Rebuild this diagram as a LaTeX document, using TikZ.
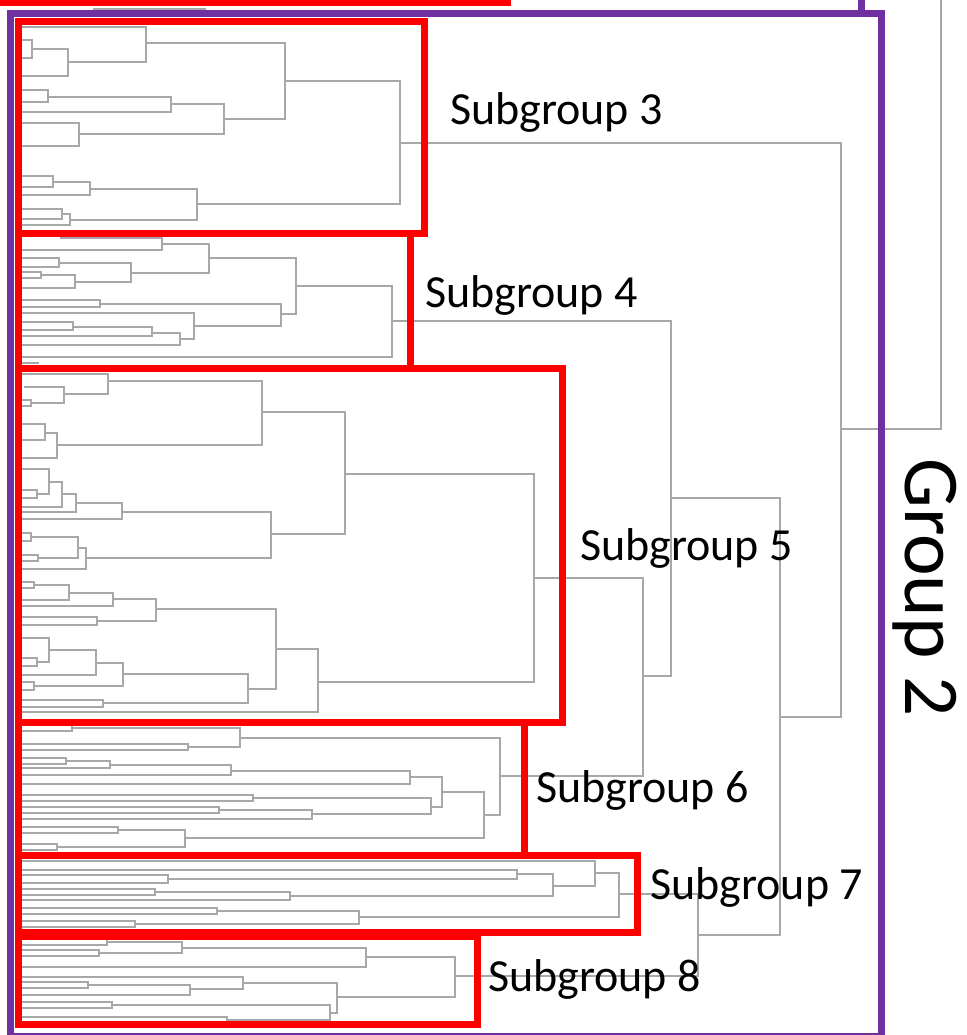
\documentclass[tikz,border=0pt]{standalone}
\usepackage{fontspec}
\setmainfont{Carlito}
\definecolor{dgray}{RGB}{168,168,168}
\definecolor{gpurple}{RGB}{112,48,160}
\definecolor{sred}{RGB}{255,0,0}
\newcommand{\br}[5]{\draw[dlink] (#4,#2) -- (#1,#2) -- (#1,#3) -- (#5,#3);}
\begin{document}
\begin{tikzpicture}[x=1pt,y=-1pt,
  dlink/.style={draw=dgray,line width=1.2pt},
  redbox/.style={draw=sred,line width=7pt},
  purplebox/.style={draw=gpurple,line width=7pt},
  sublabel/.style={font=\fontsize{46}{50}\selectfont,anchor=base west,inner sep=0pt},
  grouplabel/.style={font=\fontsize{79}{88}\selectfont,anchor=base west,inner sep=0pt,rotate=-90}]
\useasboundingbox (0,0) rectangle (966,1035);
\fill[white] (0,0) rectangle (966,1035);
% ---- top-level links ----
\draw[dlink] (841,429) -- (941,429) -- (941,0);
\draw[dlink] (93,9) -- (206,9);
\br{841}{143}{717}{400}{780}
\br{780}{498}{935}{671}{698}
\br{671}{321}{676}{392}{643}
\br{643}{578}{776}{534}{500}
\br{698}{894}{976}{619}{455}
% ---- subgroup 3 ----
\br{400}{81}{204}{285}{197}
\br{285}{43}{119}{146}{224}
\br{146}{27}{62}{20}{68}
\br{68}{49}{76}{32}{20}
\br{32}{40}{58}{20}{20}
\br{224}{104}{134}{171}{79}
\br{171}{97}{112}{48}{20}
\br{48}{90}{102}{20}{20}
\br{79}{123}{146}{20}{20}
\br{197}{189}{220}{90}{70}
\br{90}{182}{195}{53}{20}
\br{53}{176}{187}{20}{20}
\br{70}{214}{225}{62}{20}
\br{62}{209}{219}{20}{20}
% ---- subgroup 4 ----
\br{392}{286}{357}{296}{20}
\br{296}{258}{314}{209}{281}
\br{209}{244}{273}{162}{131}
\br{162}{238}{250}{60}{20}
\br{131}{263}{282}{59}{75}
\br{59}{258}{267}{20}{20}
\br{75}{275}{288}{41}{20}
\br{41}{272}{278}{20}{20}
\br{281}{304}{326}{100}{194}
\br{100}{300}{307}{20}{20}
\br{194}{313}{339}{20}{180}
\br{180}{333}{345}{152}{20}
\br{152}{327}{336}{73}{20}
\br{73}{322}{330}{20}{20}
\draw[dlink] (20,363) -- (39,363);
% ---- subgroup 5 ----
\br{534}{474}{682}{345}{318}
\br{345}{412}{534}{262}{271}
\br{262}{381}{445}{108}{57}
\br{108}{374}{394}{20}{64}
\br{64}{387}{403}{24}{31}
\br{31}{400}{406}{20}{20}
\br{57}{433}{458}{45}{20}
\br{45}{424}{440}{20}{20}
\br{271}{512}{558}{122}{86}
\br{122}{503}{519}{76}{20}
\br{76}{494}{512}{62}{20}
\br{62}{482}{507}{49}{20}
\br{49}{469}{494}{20}{37}
\br{37}{490}{498}{20}{20}
\br{86}{548}{569}{78}{20}
\br{78}{537}{558}{31}{38}
\br{31}{533}{541}{20}{20}
\br{38}{555}{561}{20}{20}
\br{318}{649}{712}{276}{20}
\br{276}{609}{689}{156}{248}
\br{156}{599}{621}{113}{97}
\br{113}{593}{606}{69}{20}
\br{69}{585}{600}{34}{20}
\br{34}{582}{588}{20}{20}
\br{97}{617}{625}{20}{20}
\br{248}{674}{703}{123}{103}
\br{123}{663}{686}{96}{34}
\br{96}{650}{675}{49}{20}
\br{49}{638}{662}{20}{37}
\br{37}{658}{666}{20}{20}
\br{34}{682}{690}{20}{20}
\br{103}{700}{707}{20}{20}
% ---- subgroup 6 ----
\br{500}{738}{815}{240}{484}
\br{240}{728}{747}{72}{188}
\br{72}{725}{731}{20}{20}
\br{188}{744}{750}{20}{20}
\br{484}{792}{838}{442}{185}
\br{442}{777}{807}{410}{431}
\br{410}{771}{784}{231}{20}
\br{231}{765}{775}{110}{20}
\br{110}{761}{768}{66}{20}
\br{66}{758}{764}{20}{20}
\br{431}{798}{814}{253}{312}
\br{253}{795}{801}{20}{20}
\br{312}{810}{819}{219}{20}
\br{219}{807}{813}{20}{20}
\br{185}{830}{847}{118}{57}
\br{118}{827}{833}{20}{20}
\br{57}{844}{850}{20}{20}
% ---- subgroup 7 ----
\br{619}{873}{917}{595}{359}
\br{595}{861}{886}{20}{553}
\br{553}{874}{896}{517}{290}
\br{517}{870}{879}{20}{168}
\br{168}{875}{883}{20}{20}
\br{290}{892}{900}{155}{20}
\br{155}{889}{895}{20}{20}
\br{359}{911}{924}{217}{135}
\br{217}{908}{914}{20}{20}
\br{135}{921}{927}{20}{20}
% ---- subgroup 8 ----
\br{455}{957}{997}{366}{337}
\br{366}{948}{967}{182}{20}
\br{182}{942}{953}{107}{99}
\br{107}{939}{945}{20}{20}
\br{99}{950}{956}{20}{20}
\br{337}{983}{1013}{243}{330}
\br{243}{977}{989}{20}{190}
\br{190}{985}{995}{88}{20}
\br{88}{982}{988}{20}{20}
\br{330}{1005}{1020}{112}{227}
\br{112}{1002}{1008}{20}{20}
\br{227}{1017}{1023}{20}{20}
% ---- boxes ----
\draw[redbox] (0,3) -- (511,3);
\draw[purplebox] (861,0) -- (861,14);
\draw[purplebox] (10,14) rectangle (881,1036);
\draw[redbox] (18,22) rectangle (424,233);
\draw[redbox] (18,233) rectangle (410,368);
\draw[redbox] (18,368) rectangle (562,722);
\draw[redbox] (18,722) rectangle (524,855);
\draw[redbox] (18,855) rectangle (637,932);
\draw[redbox] (18,936) rectangle (477,1024);
% ---- labels ----
\node[sublabel] (s3) at (450,125) {Subgroup 3};
\node[sublabel] (s4) at (425,307) {Subgroup 4};
\node[sublabel] (s5) at (580,560) {Subgroup 5};
\node[sublabel] (s6) at (536,802) {Subgroup 6};
\node[sublabel] (s7) at (650,899) {Subgroup 7};
\node[sublabel] (s8) at (488,991) {Subgroup 8};
\node[grouplabel] (g2) at (905,458) {Group 2};
\end{tikzpicture}
\end{document}
